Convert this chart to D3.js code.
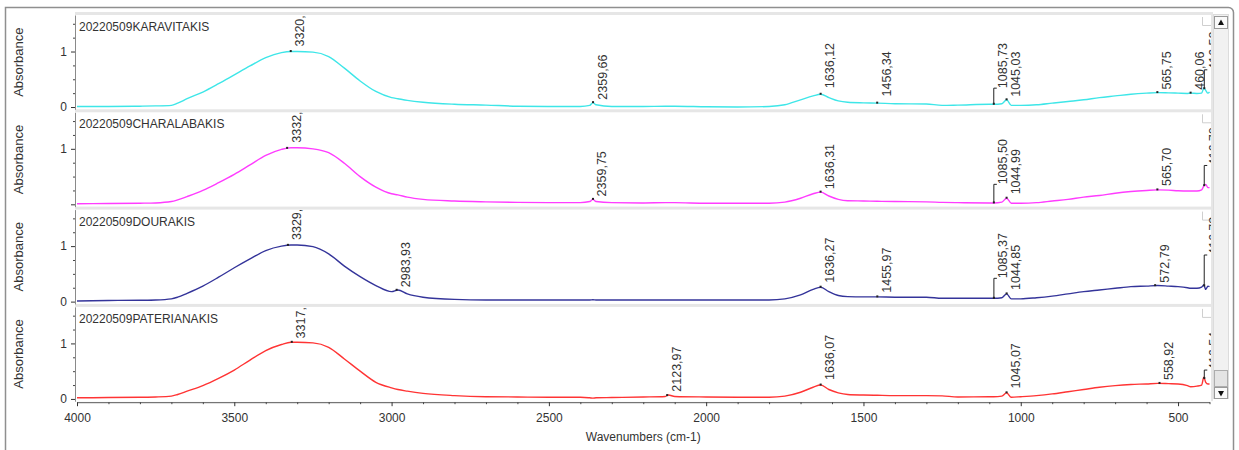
<!DOCTYPE html>
<html>
<head>
<meta charset="utf-8">
<script src="https://cdn.jsdelivr.net/npm/d3@7"></script>
<style>
body { margin: 0; background: #fff; }
svg { display: block; font-family: "Liberation Sans", Arial, sans-serif; }
</style>
</head>
<body>
<script>
// shared wavenumber grid (cm-1) for the four spectra
var waveGrid = [4000, 3900, 3800, 3750, 3700, 3680, 3650, 3600, 3550, 3500,
  3450, 3400, 3350, 3320, 3300, 3250, 3200, 3150, 3100, 3050,
  3000, 2980, 2950, 2900, 2800, 2700, 2600, 2500, 2400, 2370,
  2360, 2350, 2300, 2200, 2130, 2120, 2100, 2000, 1900, 1800,
  1750, 1700, 1660, 1636, 1610, 1580, 1550, 1500, 1456, 1400,
  1300, 1250, 1200, 1100, 1086, 1060, 1045, 1030, 1000, 950,
  900, 850, 800, 750, 700, 650, 600, 565, 530, 500,
  470, 460, 440, 425, 418, 412, 405, 400];

// absorbance
var karavitakis = [.01, .01, .015, .02, .03, .07, .15, .27, .42, .58,
  .74, .89, .98, 1.0, 1.0, .99, .91, .7, .47, .28,
  .17, .15, .12, .085, .05, .035, .015, .01, .01, .03,
  .08, .04, .01, .01, .015, .015, .015, .005, 0, .01,
  .04, .13, .2, .23, .17, .11, .085, .075, .07, .06,
  .055, .03, .035, .05, .05, .06, .13, .03, .03, .04,
  .07, .1, .13, .17, .2, .23, .25, .26, .255, .25,
  .245, .25, .245, .25, .34, .3, .25, .27];
var charalabakis = [.01, .015, .02, .025, .05, .08, .14, .25, .39, .54,
  .71, .88, .99, 1.02, 1.02, 1.0, .93, .74, .5, .31,
  .19, .17, .13, .09, .06, .045, .035, .03, .03, .05,
  .09, .05, .03, .025, .03, .03, .03, .02, .02, .02,
  .04, .11, .19, .22, .15, .09, .065, .06, .055, .05,
  .045, .035, .03, .025, .025, .04, .11, .02, .02, .03,
  .06, .09, .13, .16, .2, .23, .25, .26, .255, .245,
  .24, .24, .24, .26, .33, .36, .3, .3];
var dourakis = [.01, .02, .025, .03, .05, .08, .15, .28, .44, .61,
  .77, .92, 1.0, 1.02, 1.02, .99, .86, .64, .45, .29,
  .18, .21, .14, .08, .04, .03, .03, .03, .03, .03,
  .035, .03, .03, .03, .03, .03, .03, .03, .03, .03,
  .05, .12, .22, .26, .18, .11, .09, .085, .085, .08,
  .08, .06, .06, .06, .06, .07, .14, .05, .05, .07,
  .1, .14, .18, .21, .24, .27, .28, .29, .28, .27,
  .25, .24, .24, .26, .3, .22, .28, .27];
var paterianakis = [.02, .025, .03, .035, .05, .08, .14, .24, .37, .52,
  .7, .87, .98, 1.02, 1.02, 1.01, .93, .72, .5, .3,
  .2, .17, .14, .1, .06, .04, .035, .03, .03, .02,
  .015, .02, .025, .035, .045, .07, .045, .035, .03, .03,
  .05, .12, .21, .25, .17, .11, .08, .07, .065, .06,
  .06, .055, .035, .04, .04, .05, .11, .03, .04, .06,
  .09, .13, .17, .21, .24, .26, .27, .28, .275, .27,
  .24, .22, .23, .25, .39, .3, .27, .27];

var sampleNames = ["20220509KARAVITAKIS", "20220509CHARALABAKIS", "20220509DOURAKIS", "20220509PATERIANAKIS"];
var lineColors = ["#3ee6e8", "#ff3cff", "#34349a", "#ff3434"];

// peak labels: [wavenumber, text, absorbance where the label starts]
var peaksKaravitakis = [[3320.58, "3320,58", 1.09], [2359.66, "2359,66", 0.13], [1636.12, "1636,12", 0.34],
  [1456.34, "1456,34", 0.19], [1085.73, "1085,73", 0.34], [1045.03, "1045,03", 0.18],
  [565.75, "565,75", 0.31], [460.06, "460,06", 0.31], [416.52, "416,52", 0.67]];
var peaksCharalabakis = [[3332.02, "3332,02", 1.11], [2359.75, "2359,75", 0.14], [1636.31, "1636,31", 0.27],
  [1085.50, "1085,50", 0.36], [1044.99, "1044,99", 0.18], [565.70, "565,70", 0.33], [416.70, "416,70", 0.7]];
var peaksDourakis = [[3329.41, "3329,41", 1.11], [2983.93, "2983,93", 0.26], [1636.27, "1636,27", 0.34],
  [1455.97, "1455,97", 0.16], [1085.37, "1085,37", 0.42], [1044.85, "1044,85", 0.21],
  [572.79, "572,79", 0.33], [416.78, "416,78", 0.84]];
var peaksPaterianakis = [[3317.26, "3317,26", 1.09], [2123.97, "2123,97", 0.13], [1636.07, "1636,07", 0.34],
  [1045.07, "1045,07", 0.19], [558.92, "558,92", 0.34], [416.54, "416,54", 0.52]];

var xMajor = [4000, 3500, 3000, 2500, 2000, 1500, 1000, 500];
var yMajor = [0, 1];
var yMinor = [0.25, 0.5, 0.75, 1.25, 1.5];
var yLabelled = [[0, 1], [1], [0, 1], [0, 1]];

var spectra = [karavitakis, charalabakis, dourakis, paterianakis];
var peaks = [peaksKaravitakis, peaksCharalabakis, peaksDourakis, peaksPaterianakis];

var WIDTH = 1239, HEIGHT = 450;
var LEFT = 75, RIGHT = 1211;
var TOP = 15, PITCH = 97.3, PH = 94.3;

var svg = d3.select("body").append("svg")
    .attr("width", WIDTH)
    .attr("height", HEIGHT);

var x = d3.scaleLinear().domain([4000, 400]).range([77, 1209.5]);
var y = d3.scaleLinear().domain([-0.041, 1.658]).range([PH, 0]);

function curveAt(vals, w) {
  for (var i = 0; i < waveGrid.length - 1; i++) {
    var w0 = waveGrid[i], w1 = waveGrid[i + 1];
    if (w <= w0 && w >= w1) {
      var t = (w0 - w) / (w0 - w1);
      return vals[i] + t * (vals[i + 1] - vals[i]);
    }
  }
  return vals[vals.length - 1];
}

// window frame
svg.append("path")
    .attr("d", "M5.5,455V7.5H1228.5a5,5 0 0 1 5,5V455")
    .attr("fill", "none").attr("stroke", "#8f8f8f").attr("stroke-width", 1.5);

// gray strips around panels
svg.append("rect").attr("x", LEFT).attr("y", TOP - 3).attr("width", RIGHT - LEFT + 2)
    .attr("height", 4 * PITCH).attr("fill", "#e6e6e6");

var line = d3.line()
    .x(function(d, i) { return x(waveGrid[i]); })
    .y(function(d) { return y(d); })
    .curve(d3.curveMonotoneX);

spectra.forEach(function(vals, p) {
  var top = TOP + p * PITCH;
  var g = svg.append("g").attr("transform", "translate(0," + top + ")");

  g.append("rect").attr("x", LEFT).attr("y", 0).attr("width", RIGHT - LEFT).attr("height", PH)
      .attr("fill", "#fff");

  var clipId = "clip" + p;
  g.append("clipPath").attr("id", clipId)
    .append("rect").attr("x", LEFT + 1).attr("y", 0).attr("width", RIGHT - LEFT - 1).attr("height", PH);

  // little corner box
  g.append("path").attr("d", "M1202.5,2V10.5H1211").attr("fill", "none").attr("stroke", "#cfcfcf");

  var plot = g.append("g").attr("clip-path", "url(#" + clipId + ")");

  plot.append("path").datum(vals)
      .attr("d", line)
      .attr("fill", "none")
      .attr("stroke", lineColors[p])
      .attr("stroke-width", 1.4)
      .attr("stroke-linejoin", "round");

  peaks[p].forEach(function(pk) {
    var px = x(pk[0]);
    var py = y(curveAt(vals, pk[0]));
    var fy = y(pk[2]);
    if (py - fy > 8) {
      plot.append("path")
          .attr("d", "M" + px + "," + py + "V" + fy + "H" + (px + 3))
          .attr("fill", "none").attr("stroke", "#222").attr("stroke-width", 1);
    }
    plot.append("rect").attr("x", px - 1).attr("y", py - 1.5).attr("width", 2).attr("height", 2)
        .attr("fill", "#222");
    plot.append("text")
        .attr("transform", "translate(" + (px + 13.5) + "," + Math.min(fy, py - 3) + ") rotate(-90)")
        .attr("font-size", "12.5px")
        .attr("fill", "#333")
        .text(pk[1]);
  });

  // y axis
  var yAxis = d3.axisLeft(y).tickValues(yMajor).tickSize(4).tickSizeOuter(0).tickPadding(4)
      .tickFormat(function(d) { return yLabelled[p].indexOf(d) >= 0 ? d3.format("d")(d) : ""; });
  var ya = g.append("g").attr("transform", "translate(" + LEFT + ",0)").call(yAxis);
  ya.select(".domain").attr("stroke", "#8a8a8a");
  ya.selectAll(".tick line").attr("stroke", "#333");
  ya.selectAll("text").attr("font-size", "12px").attr("fill", "#333").attr("font-family", null);

  var yMin = g.append("g").attr("transform", "translate(" + LEFT + ",0)")
      .call(d3.axisLeft(y).tickValues(yMinor).tickSize(2).tickSizeOuter(0).tickFormat(""));
  yMin.select(".domain").remove();
  yMin.selectAll(".tick line").attr("stroke", "#444");

  g.append("text")
      .attr("x", 79).attr("y", 16)
      .attr("font-size", "12px").attr("fill", "#333")
      .text(sampleNames[p]);

  g.append("text")
      .attr("transform", "translate(22.5," + (PH / 2) + ") rotate(-90)")
      .attr("text-anchor", "middle")
      .attr("font-size", "13px").attr("fill", "#333")
      .text("Absorbance");
});

// x axis
var axisY = TOP + 3 * PITCH + PH + 1;
var xa = svg.append("g").attr("transform", "translate(0," + axisY + ")")
    .call(d3.axisBottom(x).tickValues(xMajor).tickSize(4).tickSizeOuter(0).tickPadding(7)
      .tickFormat(d3.format("d")));
xa.select(".domain").attr("stroke", "#555");
xa.selectAll(".tick line").attr("stroke", "#333");
xa.selectAll("text").attr("font-size", "12px").attr("fill", "#333").attr("font-family", null);

var xMinorTicks = d3.range(4000, 399, -100).filter(function(d) { return d % 500 !== 0; });
var xm = svg.append("g").attr("transform", "translate(0," + axisY + ")")
    .call(d3.axisBottom(x).tickValues(xMinorTicks).tickSize(2).tickFormat(""));
xm.select(".domain").remove();
xm.selectAll(".tick line").attr("stroke", "#444");

svg.append("text")
    .attr("x", (x.range()[0] + x.range()[1]) / 2).attr("y", 441)
    .attr("text-anchor", "middle")
    .attr("font-size", "12px").attr("fill", "#333")
    .text("Wavenumbers (cm-1)");

// scrollbar
var sb = svg.append("g");
sb.append("rect").attr("x", 1213.5).attr("y", 14.5).attr("width", 15).attr("height", 384)
    .attr("fill", "#f1f1f1").attr("stroke", "#dcdcdc");
sb.append("rect").attr("x", 1214.5).attr("y", 16.5).attr("width", 13).attr("height", 12)
    .attr("fill", "#fafafa").attr("stroke", "#9a9a9a");
sb.append("path").attr("d", "M1218,25L1221,19.5L1224,25Z").attr("fill", "#111");
sb.append("rect").attr("x", 1214.5).attr("y", 370.5).attr("width", 13).attr("height", 16)
    .attr("fill", "#e4e4e4").attr("stroke", "#adadad");
sb.append("rect").attr("x", 1214.5).attr("y", 387.5).attr("width", 13).attr("height", 11)
    .attr("fill", "#fafafa").attr("stroke", "#9a9a9a");
sb.append("path").attr("d", "M1218,391L1221,396.5L1224,391Z").attr("fill", "#111");
</script>
</body>
</html>
